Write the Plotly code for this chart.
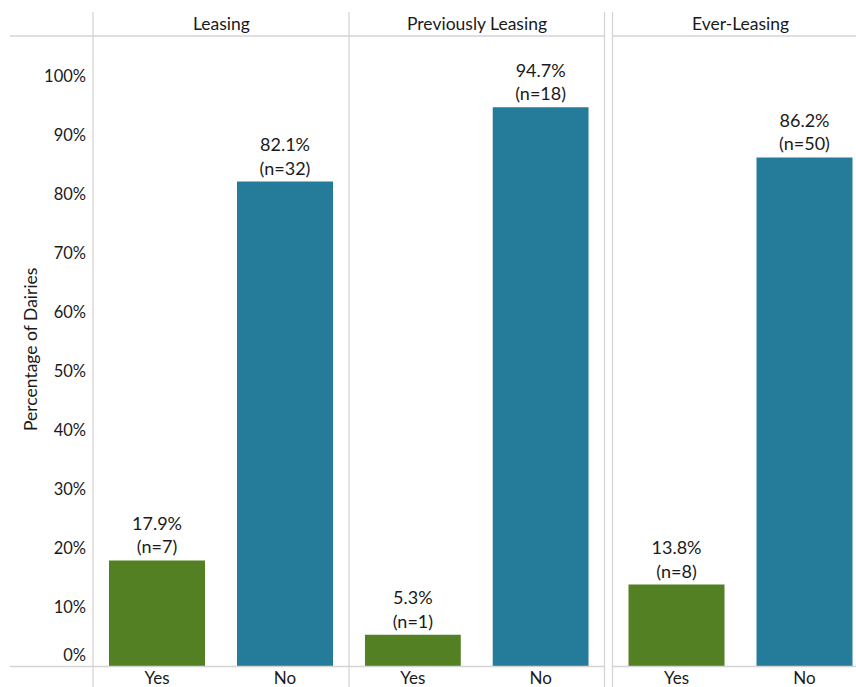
import plotly.graph_objects as go

# ---- data ----
panels = ["Leasing", "Previously Leasing", "Ever-Leasing"]
categories = ["Yes", "No"]
yes_pct = [17.9, 5.3, 13.8]
no_pct = [82.1, 94.7, 86.2]
yes_n = [7, 1, 8]
no_n = [32, 18, 50]
y_ticks = [10, 20, 30, 40, 50, 60, 70, 80, 90, 100]
y_title = "Percentage of Dairies"

GREEN = "#548024"
BLUE = "#247B9A"
LINE = "#d4d4d4"
TXT = "#1a1a1a"
FONT = "Lato"

W, H = 856, 687
def px(x):
    return x / W
def py(y):
    return 1 - y / H

fig = go.Figure()

x_domains = [[px(93), px(349)], [px(349), px(604.5)], [px(612.5), 1.0]]
x_ranges = [[-0.5, 1.5], [-0.5, 1.5], [-0.5, -0.5 + (W - 612.5) / 128.0]]
axis_names = ["x", "x2", "x3"]

for i, p in enumerate(panels):
    vals = [yes_pct[i], no_pct[i]]
    ns = [yes_n[i], no_n[i]]
    fig.add_trace(go.Bar(
        x=categories, y=vals,
        xaxis=axis_names[i], yaxis="y",
        marker=dict(color=[GREEN, BLUE], line=dict(width=0)),
        width=0.75,
        text=[f"{v:.1f}%<br>(n={n})" for v, n in zip(vals, ns)],
        textposition="outside",
        textfont=dict(family=FONT, size=18, color=TXT),
        cliponaxis=False,
        showlegend=False,
        hoverinfo="skip",
    ))

y_bottom, y_top = 666, 36
ymax = (y_bottom - y_top) / 5.9

layout = dict(
    width=W, height=H, autosize=False,
    margin=dict(l=0, r=0, t=0, b=0, autoexpand=False),
    paper_bgcolor="white", plot_bgcolor="white",
    font=dict(family=FONT, size=16, color=TXT),
    bargap=0.25,
    yaxis=dict(
        domain=[py(y_bottom), py(y_top)], range=[0, ymax], anchor="x",
        tickvals=y_ticks, ticktext=[f"{t}%" for t in y_ticks],
        showgrid=False, zeroline=False, showline=False, ticks="",
        ticklabelstandoff=6,
        tickfont=dict(family=FONT, size=16.5, color=TXT),
    ),
    yaxis2=dict(
        domain=[py(y_bottom), py(y_top)], range=[0, ymax], anchor="x",
        overlaying="y", side="left",
        tickvals=[0], ticktext=["0%"], ticklabelshift=-11,
        showgrid=False, zeroline=False, showline=False, ticks="",
        ticklabelstandoff=6,
        tickfont=dict(family=FONT, size=16.5, color=TXT),
    ),
)
for i, name in enumerate(["xaxis", "xaxis2", "xaxis3"]):
    layout[name] = dict(
        domain=x_domains[i], range=x_ranges[i], anchor="y",
        type="category", categoryorder="array", categoryarray=categories,
        showgrid=False, zeroline=False, showline=False, ticks="",
        ticklabelstandoff=0,
        tickfont=dict(family=FONT, size=17, color=TXT),
    )
fig.update_layout(**layout)

# invisible trace to make yaxis2 render
fig.add_trace(go.Scatter(x=[None], y=[None], xaxis="x", yaxis="y2",
                         showlegend=False, hoverinfo="skip"))

# separator lines
shapes = []
for xs in [(10, 604.5), (612.5, W)]:
    for yy in (36, 666.5):
        shapes.append(dict(type="line", xref="paper", yref="paper",
                           x0=px(xs[0]), x1=px(xs[1]), y0=py(yy), y1=py(yy),
                           line=dict(color=LINE, width=1.3)))
for xx in (93, 349, 604.5, 612.5):
    shapes.append(dict(type="line", xref="paper", yref="paper",
                       x0=px(xx), x1=px(xx), y0=py(12), y1=py(H),
                       line=dict(color=LINE, width=1.3)))
fig.update_layout(shapes=shapes)

# facet titles
centers = [221, 476.5, 740.5]
anns = []
for p, c in zip(panels, centers):
    anns.append(dict(text=p, x=px(c), y=py(24), xref="paper", yref="paper",
                     showarrow=False, xanchor="center", yanchor="middle",
                     font=dict(family=FONT, size=17.5, color=TXT)))
anns.append(dict(text=y_title, x=px(30), y=py(350), xref="paper", yref="paper",
                 showarrow=False, textangle=-90, xanchor="center", yanchor="middle",
                 font=dict(family=FONT, size=17.5, color=TXT)))
fig.update_layout(annotations=anns)

fig.write_html("out.html", config={"responsive": False})
